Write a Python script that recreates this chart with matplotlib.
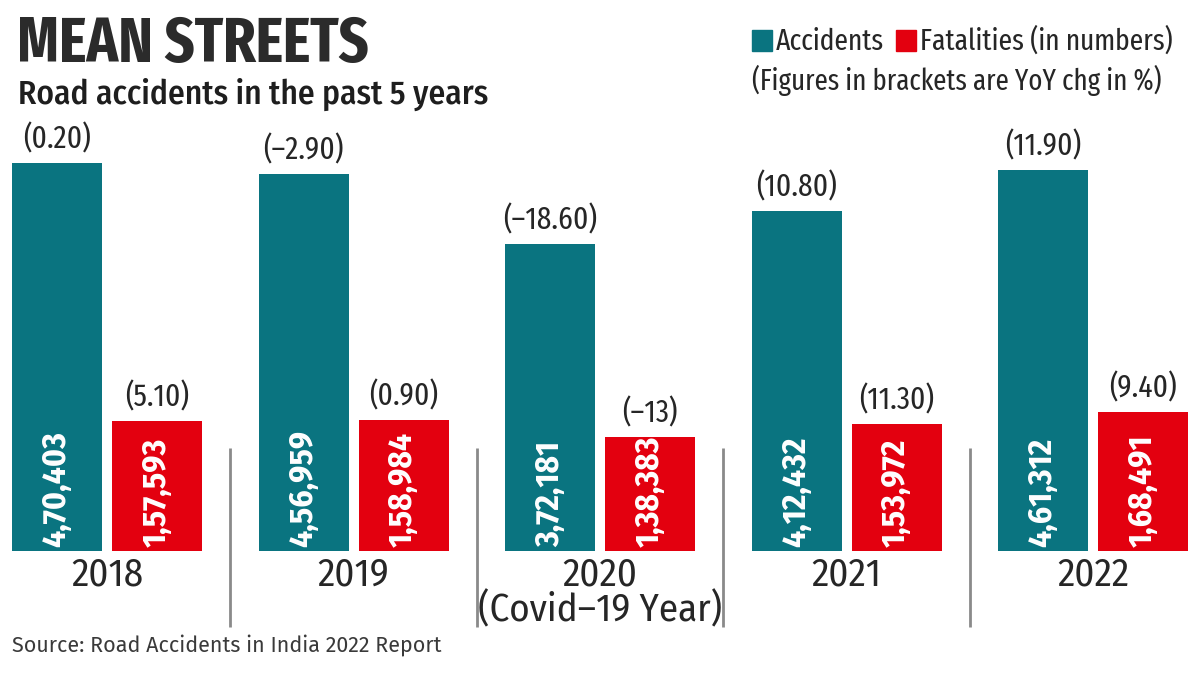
import numpy as np
import matplotlib
matplotlib.use('Agg')
import matplotlib.pyplot as plt

# data
years = ['2018', '2019', '2020\n(Covid\u201319 Year)', '2021', '2022']
accidents = [470403, 456959, 372181, 412432, 461312]
fatalities = [157593, 158984, 138383, 153972, 168491]
acc_labels = ['4,70,403', '4,56,959', '3,72,181', '4,12,432', '4,61,312']
fat_labels = ['1,57,593', '1,58,984', '1,38,383', '1,53,972', '1,68,491']
acc_chg = ['(0.20)', '(\u20132.90)', '(\u201318.60)', '(10.80)', '(11.90)']
fat_chg = ['(5.10)', '(0.90)', '(\u201313)', '(11.30)', '(9.40)']

TEAL = '#0a7480'
RED = '#e3000f'
INK = '#262626'

COND = ['Fira Sans Condensed', 'DejaVu Sans']
XCOND = ['Fira Sans Extra Condensed', 'Fira Sans Condensed', 'DejaVu Sans']
FIRA = ['Fira Sans', 'DejaVu Sans']

W, H = 1200, 674
fig = plt.figure(figsize=(12, 6.74), dpi=100)
ax = fig.add_axes([0, 0, 1, 1])

# pixel layout: baseline at y=551 px, 0.000825 px per unit, groups 246.5 px apart
base_px = 551
scale = 0.000825
group_px = 246.5
first_px = 107
ax.set_ylim(-(H - base_px) / scale, base_px / scale)
ax.set_xlim(-first_px / group_px, (W - first_px) / group_px)
ax.axis('off')

x = np.arange(len(years))
bw = 90 / group_px
off = 50 / group_px
ax.bar(x - off, accidents, bw, color=TEAL)
ax.bar(x + off, fatalities, bw, color=RED)

pad_v = 4 / scale
for i in range(len(years)):
    ax.text(x[i] - off, pad_v, acc_labels[i], rotation=90, ha='center', va='bottom',
            color='white', fontsize=24, fontweight='bold', family=COND)
    ax.text(x[i] + off, pad_v, fat_labels[i], rotation=90, ha='center', va='bottom',
            color='white', fontsize=24, fontweight='bold', family=COND)
    ax.annotate(acc_chg[i], (x[i] - off, accidents[i]), xytext=(0, 6),
                textcoords='offset points', ha='center', va='bottom',
                color=INK, fontsize=23, family=XCOND)
    ax.annotate(fat_chg[i], (x[i] + off, fatalities[i]), xytext=(0, 6),
                textcoords='offset points', ha='center', va='bottom',
                color=INK, fontsize=23, family=XCOND)
    ax.text(x[i], -(556 - base_px) / scale, years[i], ha='center', va='top',
            color=INK, fontsize=28, family=COND, linespacing=0.92)

# thin separators between years
for i in range(len(years) - 1):
    ax.plot([x[i] + 0.5, x[i] + 0.5], [-(627 - base_px) / scale, (base_px - 448) / scale],
            color='#8a8a8a', lw=2, solid_capstyle='butt')

# titles
fig.text(17 / W, 1 - 62 / H, 'MEAN STREETS', fontsize=45.5, fontweight='bold',
         family=XCOND, color='#2b2b2b', va='baseline')
fig.text(18 / W, 1 - 104 / H, 'Road accidents in the past 5 years', fontsize=24,
         fontweight='medium', family=COND, color='#1e1e1e', va='baseline')

# legend
fig.patches.append(plt.Rectangle((752 / W, 1 - 51 / H), 20 / W, 21 / H,
                                 transform=fig.transFigure, color=TEAL))
fig.text(776 / W, 1 - 50 / H, 'Accidents', fontsize=21.5, family=XCOND, color=INK, va='baseline')
fig.patches.append(plt.Rectangle((896 / W, 1 - 51 / H), 20 / W, 21 / H,
                                 transform=fig.transFigure, color=RED))
fig.text(920 / W, 1 - 50 / H, 'Fatalities (in numbers)', fontsize=21.5, family=XCOND,
         color=INK, va='baseline')
fig.text(752 / W, 1 - 90 / H, '(Figures in brackets are YoY chg in %)', fontsize=21,
         family=XCOND, color=INK, va='baseline')

fig.text(12 / W, 1 - 652 / H, 'Source: Road Accidents in India 2022 Report', fontsize=15.5,
         family=FIRA, color='#3a3a3a', va='baseline')

fig.savefig('out.png', dpi=100, facecolor='white')
